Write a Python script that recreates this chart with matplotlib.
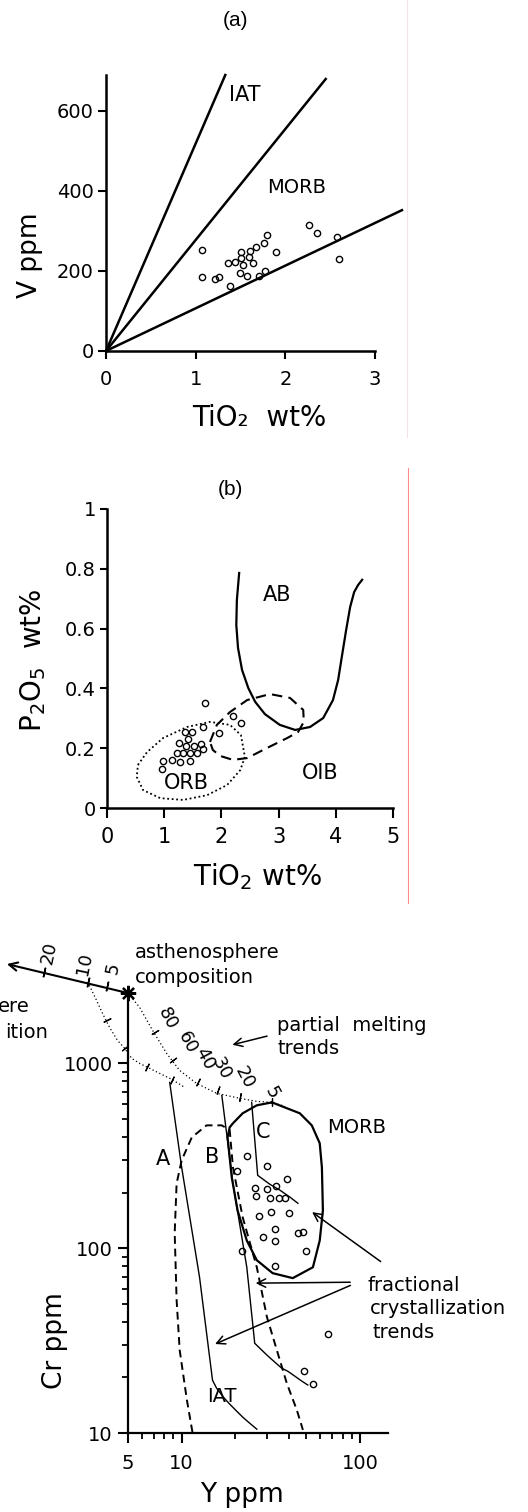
import numpy as np
import matplotlib
matplotlib.use('Agg')
import matplotlib.pyplot as plt
from matplotlib.lines import Line2D
from matplotlib.ticker import FixedLocator, NullFormatter

plt.rcParams['font.family'] = ['DejaVu Sans']
plt.rcParams['mathtext.fontset'] = 'dejavusans'

# ---------------- (a) V - TiO2 ----------------
a_tio2 = [1.07, 1.07, 1.22, 1.26, 1.38, 1.36, 1.44, 1.49, 1.51, 1.51, 1.53, 1.57, 1.59,
          1.61, 1.64, 1.67, 1.71, 1.76, 1.77, 1.80, 1.89, 2.26, 2.35, 2.58, 2.60]
a_v = [252, 185, 179, 185, 162, 221, 223, 194, 248, 233, 215, 187, 234,
       251, 219, 259, 187, 269, 199, 291, 247, 316, 295, 284, 230]
# Ti/V reference lines (end points, they all start at the origin)
a_line_tio2 = [1.33, 2.45, 3.30]
a_line_v = [690, 680, 352]

# ---------------- (b) P2O5 - TiO2 ----------------
b_tio2 = [1.71, 2.20, 2.34, 1.96, 1.68, 1.36, 1.49, 1.42, 1.26, 1.38, 1.52, 1.64,
          1.22, 1.33, 1.45, 1.57, 1.68, 0.98, 1.13, 1.28, 1.45, 0.96]
b_p2o5 = [0.351, 0.308, 0.284, 0.251, 0.271, 0.254, 0.254, 0.231, 0.217, 0.206, 0.206, 0.214,
          0.185, 0.185, 0.185, 0.184, 0.197, 0.158, 0.161, 0.155, 0.158, 0.130]
ab_tio2 = [2.31, 2.27, 2.26, 2.29, 2.36, 2.47, 2.59, 2.76, 3.02, 3.29, 3.55, 3.78, 3.95,
           4.04, 4.11, 4.18, 4.25, 4.32, 4.39, 4.46]
ab_p2o5 = [0.786, 0.696, 0.612, 0.535, 0.462, 0.401, 0.355, 0.314, 0.278, 0.261, 0.271, 0.301,
           0.361, 0.428, 0.512, 0.595, 0.672, 0.722, 0.746, 0.763]
oib_tio2 = [1.80, 1.92, 2.15, 2.45, 2.85, 3.20, 3.43, 3.44, 3.34, 3.15, 2.80, 2.45, 2.20,
            1.98, 1.85, 1.80]
oib_p2o5 = [0.221, 0.278, 0.321, 0.361, 0.381, 0.368, 0.328, 0.288, 0.254, 0.234, 0.201,
            0.167, 0.161, 0.174, 0.194, 0.221]
orb_tio2 = [0.54, 0.70, 0.98, 1.40, 1.80, 2.15, 2.34, 2.41, 2.33, 2.10, 1.75, 1.33, 0.93,
            0.63, 0.52, 0.54]
orb_p2o5 = [0.144, 0.187, 0.234, 0.271, 0.288, 0.278, 0.244, 0.171, 0.127, 0.077, 0.043,
            0.027, 0.033, 0.060, 0.104, 0.144]

# ---------------- (c) Cr - Y ----------------
c_y = [23.2, 30.1, 38.9, 25.7, 26.0, 30.1, 33.7, 31.2, 35.1, 37.9, 27.1, 31.6, 39.9,
       33.3, 28.5, 33.3, 44.9, 47.9, 49.8, 21.7, 33.3, 20.4, 66.1, 48.4, 54.5]
c_cr = [314, 277, 236, 211, 191, 208, 216, 186, 186, 186, 149, 157, 155,
        127, 115, 110, 121, 122, 96, 96, 80, 261, 34.3, 21.6, 18.4]
morb_y = [32.1, 46.0, 53.7, 59.5, 61.2, 62.0, 59.5, 54.5, 42.0, 32.4, 26.4, 23.2, 20.6,
          19.1, 18.1, 18.6, 19.4, 22.0, 26.4, 32.1]
morb_cr = [615, 537, 462, 370, 274, 160, 110, 78.9, 68.9, 73.3, 86.1, 110, 160,
           242, 398, 451, 474, 537, 593, 615]
iat_env_y = [11.5, 10.7, 9.75, 9.37, 9.14, 9.37, 10.0, 11.4, 13.8, 16.8, 18.6, 19.4, 22.0,
             26.4, 30.1, 34.2, 38.9, 44.3, 47.9]
iat_env_cr = [10.1, 15.1, 28.1, 52.4, 121, 224, 299, 398, 462, 462, 435, 274, 147,
              78.9, 42.4, 28.1, 18.6, 13.3, 10.4]
trend_a_y = [8.57, 10.0, 12.6, 14.9, 15.7, 17.0, 18.4, 20.1, 22.0, 24.1, 26.4]
trend_a_cr = [789, 274, 69.7, 19.3, 17.5, 15.8, 14.5, 13.3, 12.2, 11.3, 10.5]
trend_b_y = [16.8, 19.4, 23.2, 25.7, 30.1, 33.3, 36.5, 39.4, 43.2, 47.2, 51.0]
trend_b_cr = [671, 224, 78.9, 30.6, 26.4, 24.2, 22.4, 21.6, 20.3, 19.1, 18.2]
trend_c_y = [24.7, 26.7, 31.2, 35.6, 40.5, 44.9]
trend_c_cr = [615, 248, 222, 206, 189, 175]
# partial melting trends (dotted)
melt1_y = [5.0, 5.81, 6.87, 8.24, 9.75, 12.1, 15.7, 21.2, 26.4, 32.1, 37.9]
melt1_cr = [2400, 2009, 1507, 1132, 916, 780, 689, 647, 623, 615, 586]
melt2_y = [2.97, 3.33, 3.60, 3.94, 4.37, 4.79, 5.24, 5.81, 6.61, 7.52, 8.79, 10.4]
melt2_cr = [2760, 2193, 1862, 1567, 1330, 1205, 1065, 1000, 940, 883, 820, 742]
melt1_tick_y = [7.05, 8.90, 12.3, 15.9, 21.2, 32.1]
melt1_tick_cr = [1472, 1038, 789, 714, 655, 615]
melt1_tick_ang = [-59, -53, -27, -20, -10, 0]
melt1_lab = ['80', '60', '40', '30', '20', '5']
melt1_lab_y = [8.34, 10.8, 13.5, 16.8, 22.6, 32.1]
melt1_lab_cr = [1750, 1300, 1065, 940, 839, 697]
melt2_tick_y = [3.79, 4.79, 6.36, 8.79]
melt2_tick_cr = [1706, 1205, 951, 809]
melt2_tick_ang = [-63, -52, -27, -25]
# line from asthenosphere towards lithosphere composition
asth_y, asth_cr = 5.0, 2400
lith_end_y, lith_end_cr = 1.01, 3474
lith_tick_y = [3.79, 2.97, 1.70]
lith_tick_cr = [2607, 2740, 3105]
lith_lab = ['5', '10', '20']
lith_lab_y = [4.09, 2.85, 1.81]
lith_lab_cr = [3266, 3450, 3950]

fig = plt.figure(figsize=(5.28, 15.12), dpi=100)

# ================= panel (a) =================
ax1 = fig.add_axes([0.2008, 0.7679, 0.5095, 0.1825])
ax1.set_xlim(0, 3)
ax1.set_ylim(0, 690)
for s in ['top', 'right']:
    ax1.spines[s].set_visible(False)
for s in ['left', 'bottom']:
    ax1.spines[s].set_linewidth(1.8)
ax1.set_xticks([0, 1, 2, 3])
ax1.set_yticks([0, 200, 400, 600])
ax1.tick_params(axis='x', direction='out', length=6, width=1.5, labelsize=14, pad=8)
ax1.tick_params(axis='y', direction='out', length=6, width=1.5, labelsize=14, pad=3)
for xe, ye in zip(a_line_tio2, a_line_v):
    ax1.plot([0, xe], [0, ye], color='k', lw=1.8, clip_on=False)
ax1.plot(a_tio2, a_v, 'o', mfc='none', mec='k', ms=4.5, mew=1, clip_on=False)
ax1.text(1.55, 640, 'IAT', fontsize=15, ha='center', va='center')
ax1.text(2.13, 408, 'MORB', fontsize=14, ha='center', va='center')
ax1.text(-0.283, 0.348, 'V ppm', transform=ax1.transAxes, rotation=90,
         fontsize=19, ha='center', va='center')
ax1.text(0.569, -0.243, 'TiO\u2082  wt%', transform=ax1.transAxes,
         fontsize=20, ha='center', va='center')
ax1.text(0.480, 1.199, '(a)', transform=ax1.transAxes, fontsize=15,
         ha='center', va='center', family=['Liberation Sans', 'DejaVu Sans'])

# ================= panel (b) =================
ax2 = fig.add_axes([0.2027, 0.4656, 0.5417, 0.1978])
ax2.set_xlim(0, 5)
ax2.set_ylim(0, 1)
for s in ['top', 'right']:
    ax2.spines[s].set_visible(False)
for s in ['left', 'bottom']:
    ax2.spines[s].set_linewidth(1.8)
ax2.set_xticks([0, 1, 2, 3, 4, 5])
ax2.set_xticklabels(['0', '1', '2', '3', '4', '5'], fontsize=15)
ax2.set_yticks([0, 0.2, 0.4, 0.6, 0.8, 1])
ax2.set_yticklabels(['0', '0.2', '0.4', '0.6', '0.8', '1'], fontsize=14)
ax2.tick_params(axis='x', direction='out', length=7, width=1.5, pad=7)
ax2.tick_params(axis='y', direction='out', length=5, width=1.5, pad=3)
ax2.plot(ab_tio2, ab_p2o5, color='k', lw=1.6)
ax2.plot(oib_tio2, oib_p2o5, color='k', lw=1.5, ls=(0, (5, 3)))
ax2.plot(orb_tio2, orb_p2o5, color='k', lw=1.3, ls=(0, (1, 1.5)))
ax2.plot(b_tio2, b_p2o5, 'o', mfc='none', mec='k', ms=4.5, mew=1)
ax2.text(2.97, 0.712, 'AB', fontsize=15, ha='center', va='center')
ax2.text(1.39, 0.083, 'ORB', fontsize=15, ha='center', va='center')
ax2.text(3.72, 0.117, 'OIB', fontsize=15, ha='center', va='center')
ax2.text(-0.259, 0.495, r'P$_2$O$_5$  wt%', transform=ax2.transAxes, rotation=90,
         fontsize=20, ha='center', va='center')
ax2.text(0.528, -0.231, r'TiO$_2$ wt%', transform=ax2.transAxes,
         fontsize=20, ha='center', va='center')
ax2.text(0.430, 1.064, '(b)', transform=ax2.transAxes, fontsize=15,
         ha='center', va='center', family=['Liberation Sans', 'DejaVu Sans'])

# ================= panel (c) =================
ax3 = fig.add_axes([0.2424, 0.0522, 0.4924, 0.2910])
ax3.set_xscale('log')
ax3.set_yscale('log')
ax3.set_xlim(5, 143.7)
ax3.set_ylim(10, 2400)
for s in ['top', 'right']:
    ax3.spines[s].set_visible(False)
for s in ['left', 'bottom']:
    ax3.spines[s].set_linewidth(1.6)
ax3.xaxis.set_major_locator(FixedLocator([5, 10, 100]))
ax3.xaxis.set_minor_locator(FixedLocator([6, 7, 8, 9, 20, 30, 40, 50, 60, 70, 80, 90]))
ax3.yaxis.set_major_locator(FixedLocator([10, 100, 1000]))
ax3.yaxis.set_minor_locator(FixedLocator([20, 30, 40, 50, 60, 70, 80, 90,
                                          200, 300, 400, 500, 600, 700, 800, 900]))
ax3.xaxis.set_minor_formatter(NullFormatter())
ax3.yaxis.set_minor_formatter(NullFormatter())
ax3.set_xticklabels(['5', '10', '100'])
ax3.set_yticklabels(['10', '100', '1000'])
ax3.tick_params(which='major', direction='out', length=7, width=1.5, labelsize=14)
ax3.tick_params(which='minor', direction='out', length=4.5, width=1.3)
ax3.tick_params(axis='x', which='major', pad=8)
ax3.tick_params(axis='y', which='major', pad=4)

ax3.plot(morb_y, morb_cr, color='k', lw=1.6, clip_on=False)
ax3.plot(iat_env_y, iat_env_cr, color='k', lw=1.4, ls=(0, (4, 2.5)), clip_on=False)
for ty, tc in [(trend_a_y, trend_a_cr), (trend_b_y, trend_b_cr), (trend_c_y, trend_c_cr)]:
    ax3.plot(ty, tc, color='k', lw=1.0, clip_on=False)
ax3.plot(melt1_y, melt1_cr, color='k', lw=0.9, ls=(0, (1, 2)), clip_on=False)
ax3.plot(melt2_y, melt2_cr, color='k', lw=0.9, ls=(0, (1, 2)), clip_on=False)
for x, y, a in zip(melt1_tick_y, melt1_tick_cr, melt1_tick_ang):
    ax3.plot(x, y, marker=(2, 2, a), ms=6, mew=0.9, color='k', clip_on=False)
for x, y, a in zip(melt2_tick_y, melt2_tick_cr, melt2_tick_ang):
    ax3.plot(x, y, marker=(2, 2, a), ms=6, mew=0.9, color='k', clip_on=False)
for lab, x, y in zip(melt1_lab, melt1_lab_y, melt1_lab_cr):
    ax3.text(x, y, lab, fontsize=13, rotation=-62, ha='center', va='center')

ax3.annotate('', xy=(lith_end_y, lith_end_cr), xytext=(asth_y, asth_cr),
             arrowprops=dict(arrowstyle='->,head_length=0.6,head_width=0.3', lw=1.5, color='k'),
             annotation_clip=False)
for x, y in zip(lith_tick_y, lith_tick_cr):
    ax3.plot(x, y, marker=(2, 2, -13), ms=7, mew=1.1, color='k', clip_on=False)
for lab, x, y in zip(lith_lab, lith_lab_y, lith_lab_cr):
    ax3.text(x, y, lab, fontsize=13, rotation=78, ha='center', va='center')
ax3.plot(asth_y, asth_cr, marker=(8, 2, 0), ms=11, mew=1.6, color='k', clip_on=False)

ax3.plot(c_y, c_cr, 'o', mfc='none', mec='k', ms=4.5, mew=1, clip_on=False)

arrow_kw = dict(arrowstyle='->,head_length=0.6,head_width=0.3', lw=1.1, color='k')
ax3.annotate('', xy=(18.6, 1250), xytext=(31.2, 1416), arrowprops=arrow_kw,
             annotation_clip=False)
ax3.annotate('', xy=(52.4, 160), xytext=(134.6, 83.0), arrowprops=arrow_kw,
             annotation_clip=False)
ax3.annotate('', xy=(25.1, 64.7), xytext=(91.4, 65.5), arrowprops=arrow_kw,
             annotation_clip=False)
ax3.annotate('', xy=(14.9, 29.9), xytext=(91.4, 63.8), arrowprops=arrow_kw,
             annotation_clip=False)

ax3.text(5.45, 3981, 'asthenosphere', fontsize=14, ha='left', va='center')
ax3.text(5.45, 2917, 'composition', fontsize=14, ha='left', va='center')
ax3.text(34.2, 1603, 'partial  melting', fontsize=14, ha='left', va='center')
ax3.text(34.6, 1205, 'trends', fontsize=14, ha='left', va='center')
ax3.text(65.3, 451, 'MORB', fontsize=14, ha='left', va='center')
ax3.text(7.82, 303, 'A', fontsize=15, ha='center', va='center')
ax3.text(14.9, 310, 'B', fontsize=15, ha='center', va='center')
ax3.text(28.5, 424, 'C', fontsize=15, ha='center', va='center')
ax3.text(16.8, 15.7, 'IAT', fontsize=14, ha='center', va='center')
ax3.text(111, 63.1, 'fractional', fontsize=14, ha='left', va='center')
ax3.text(114, 47.4, 'crystallization', fontsize=14, ha='left', va='center')
ax3.text(117, 34.8, 'trends', fontsize=14, ha='left', va='center')
ax3.text(-0.281, 0.211, 'Cr ppm', transform=ax3.transAxes, rotation=90,
         fontsize=19, ha='center', va='center')
ax3.text(0.438, -0.141, 'Y ppm', transform=ax3.transAxes,
         fontsize=19, ha='center', va='center')

# the scan cuts off the lithosphere label at its left edge; only these ends show
fig.text(30 / 528, 1 - 1007 / 1512, 'ere', fontsize=14, ha='right', va='center')
fig.text(48 / 528, 1 - 1032 / 1512, 'ition', fontsize=14, ha='right', va='center')

# scan border lines
fig.add_artist(Line2D([407 / 528, 407 / 528], [1.0, 1 - 437 / 1512], color='#f2e4e4', lw=0.8))
fig.add_artist(Line2D([408 / 528, 408 / 528], [1 - 468 / 1512, 1 - 903 / 1512],
                      color='#ff8c8c', lw=0.8))

fig.savefig('out.png', dpi=100)
